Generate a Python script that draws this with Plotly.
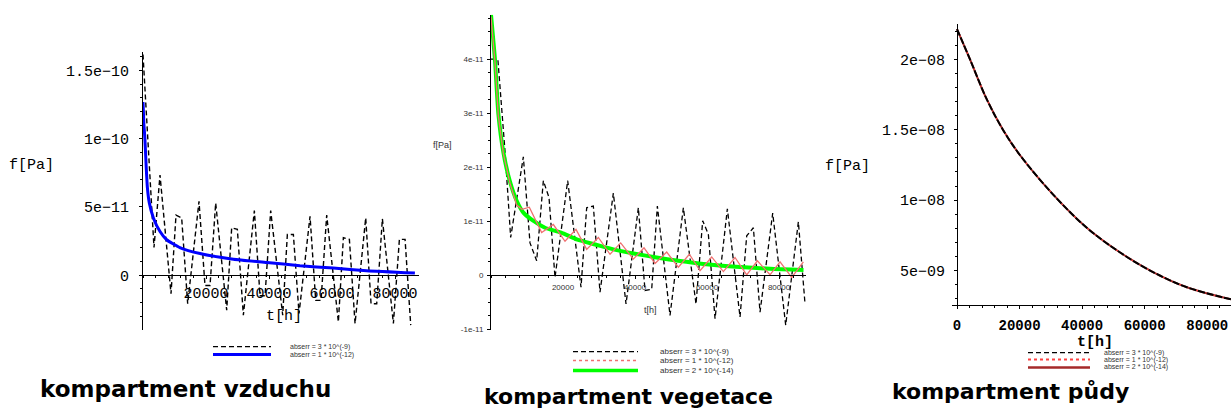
import plotly.graph_objects as go

W, H = 1232, 416

# ---------------- data ----------------
# Panel 1: kompartment vzduchu (air)
air_dash_t = [0, 3492, 5397, 8889, 10476, 12275, 14180, 17778, 19683, 21270, 23069, 26561,
              28148, 29947, 31852, 35344, 37143, 38730, 40529, 44339, 45820, 47725, 49524,
              53016, 54815, 56508, 58306, 62010, 63597, 65502, 67302, 70688, 72381, 74180,
              75979, 79471, 81376, 83175, 84974]
air_dash_f = [16.16e-11, 2.03e-11, 7.34e-11, -1.35e-11, 4.40e-11, 4.20e-11, -2.08e-11, 5.41e-11,
              -0.75e-11, -0.75e-11, 5.29e-11, -2.56e-11, 3.48e-11, 3.36e-11, -2.92e-11, 4.73e-11,
              -1.50e-11, -1.50e-11, 4.73e-11, -2.92e-11, 2.99e-11, 2.99e-11, -2.80e-11, 4.32e-11,
              -1.84e-11, -1.84e-11, 4.40e-11, -3.41e-11, 2.75e-11, 2.63e-11, -3.53e-11, 4.20e-11,
              -2.08e-11, -2.08e-11, 4.13e-11, -3.53e-11, 2.63e-11, 2.63e-11, -3.65e-11]
air_blue_t = [0, 300, 600, 1000, 1400, 2000, 3300, 5400, 7500, 11700, 18100, 28700, 39300,
              49800, 60400, 71000, 86300]
air_blue_f = [12.68e-11, 11.0e-11, 10.0e-11, 8.0e-11, 6.4e-11, 5.3e-11, 4.2e-11, 3.2e-11,
              2.6e-11, 2.03e-11, 1.59e-11, 1.18e-11, 0.94e-11, 0.70e-11, 0.53e-11, 0.34e-11,
              0.17e-11]

# Panel 2: kompartment vegetace
veg_dash_t = [0, 1900, 3889, 5463, 8981, 10833, 12685, 14537, 16111, 17778, 21296, 25000,
              26574, 28426, 30278, 33981, 37500, 40926, 42778, 44630, 46204, 49722, 53426,
              56944, 58796, 60370, 62222, 65648, 69167, 71019, 72870, 74722, 78241, 81852,
              85370, 87222]
veg_dash_f = [4.0e-11, 4.0e-11, 2.3e-11, 0.70e-11, 2.19e-11, 0.60e-11, 0.27e-11, 1.75e-11,
              1.44e-11, -0.04e-11, 1.75e-11, -0.22e-11, 1.25e-11, 1.28e-11, -0.31e-11, 1.52e-11,
              -0.53e-11, 1.25e-11, -0.28e-11, -0.26e-11, 1.28e-11, -0.74e-11, 1.25e-11,
              -0.53e-11, 1.01e-11, 0.76e-11, -0.80e-11, 1.23e-11, -0.77e-11, 0.73e-11,
              0.88e-11, -0.68e-11, 1.15e-11, -0.92e-11, 0.99e-11, -0.53e-11]
veg_red_t = [0, 1100, 2040, 3430, 5280, 7130, 8600, 10650, 14070, 17315, 20556, 23611, 26574,
             29815, 33056, 36019, 39537, 42500, 45556, 48796, 52037, 55093, 58056, 61296,
             64537, 67778, 71019, 73981, 77500, 80278, 83519, 86759]
veg_red_f = [4.78e-11, 3.95e-11, 2.95e-11, 2.25e-11, 1.70e-11, 1.30e-11, 1.22e-11, 1.26e-11,
             0.79e-11, 0.94e-11, 0.63e-11, 0.85e-11, 0.48e-11, 0.70e-11, 0.39e-11, 0.60e-11,
             0.30e-11, 0.51e-11, 0.22e-11, 0.43e-11, 0.15e-11, 0.39e-11, 0.085e-11, 0.34e-11,
             0.07e-11, 0.33e-11, 0.01e-11, 0.27e-11, 0.01e-11, 0.25e-11, -0.04e-11, 0.25e-11]
veg_green_t = [0, 1100, 2040, 3430, 5280, 7130, 9000, 11700, 15000, 19500, 24000, 29000,
               34000, 40000, 46000, 52000, 59000, 68000, 77500, 86800]
veg_green_f = [4.82e-11, 3.99e-11, 2.99e-11, 2.28e-11, 1.73e-11, 1.38e-11, 1.16e-11, 1.01e-11,
               0.88e-11, 0.79e-11, 0.66e-11, 0.57e-11, 0.48e-11, 0.40e-11, 0.33e-11, 0.27e-11,
               0.21e-11, 0.16e-11, 0.12e-11, 0.10e-11]

# Panel 3: kompartment půdy (soil) - three overlapping curves
soil_t = [0, 4160, 9493, 14827, 20160, 30827, 41493, 52160, 62827, 73493, 87573]
soil_f = [22.16e-9, 20.0e-9, 17.18e-9, 14.95e-9, 13.19e-9, 10.37e-9, 8.03e-9, 6.27e-9,
          4.86e-9, 3.80e-9, 2.94e-9]

# tick labels
t_ticks = [20000, 40000, 60000, 80000]
t_tick_text = ["20000", "40000", "60000", "80000"]
soil_t_ticks = [0, 20000, 40000, 60000, 80000]
soil_t_tick_text = ["0", "20000", "40000", "60000", "80000"]
air_f_ticks = [0, 5e-11, 1e-10, 1.5e-10]
air_f_tick_text = ["0", "5e\u221211", "1e\u221210", "1.5e\u221210"]
veg_f_ticks = [-1e-11, 0, 1e-11, 2e-11, 3e-11, 4e-11]
veg_f_tick_text = ["-1e-11", "0", "1e-11", "2e-11", "3e-11", "4e-11"]
soil_f_ticks = [5e-9, 1e-8, 1.5e-8, 2e-8]
soil_f_tick_text = ["5e\u221209", "1e\u221208", "1.5e\u221208", "2e\u221208"]

legend_labels = ["abserr = 3 * 10^(-9)", "abserr = 1 * 10^(-12)", "abserr = 2 * 10^(-14)"]
titles = ["kompartment vzduchu", "kompartment vegetace", "kompartment půdy"]

# ---------------- figure ----------------
def fx(p):
    return p / W

def fy(p):
    return 1 - p / H

DASH = "5px,3px"
fig = go.Figure()

fig.add_trace(go.Scatter(x=air_dash_t, y=air_dash_f, xaxis="x", yaxis="y", mode="lines",
                         line=dict(color="black", width=1.4, dash=DASH)))
fig.add_trace(go.Scatter(x=air_blue_t, y=air_blue_f, xaxis="x", yaxis="y", mode="lines",
                         line=dict(color="#0000ff", width=3, shape="spline", smoothing=0.5)))

fig.add_trace(go.Scatter(x=veg_dash_t, y=veg_dash_f, xaxis="x2", yaxis="y2", mode="lines",
                         line=dict(color="black", width=1.3, dash=DASH)))
fig.add_trace(go.Scatter(x=veg_green_t, y=veg_green_f, xaxis="x2", yaxis="y2", mode="lines",
                         line=dict(color="#00ff00", width=4, shape="spline", smoothing=0.5)))
fig.add_trace(go.Scatter(x=veg_red_t, y=veg_red_f, xaxis="x2", yaxis="y2", mode="lines",
                         line=dict(color="#f07070", width=1.3)))

fig.add_trace(go.Scatter(x=soil_t, y=soil_f, xaxis="x3", yaxis="y3", mode="lines",
                         line=dict(color="#a52a2a", width=2, shape="spline")))
fig.add_trace(go.Scatter(x=soil_t, y=soil_f, xaxis="x3", yaxis="y3", mode="lines",
                         line=dict(color="#ff4040", width=1, dash="dot", shape="spline")))
fig.add_trace(go.Scatter(x=soil_t, y=soil_f, xaxis="x3", yaxis="y3", mode="lines",
                         line=dict(color="black", width=2, dash="7px,2px", shape="spline")))

mono = dict(family="Liberation Mono", size=15, color="black")
mono_x3 = dict(family="Liberation Mono", size=14, color="black", weight="bold")
sans = dict(family="Liberation Sans", size=8, color="#333333")

common = dict(showgrid=False, zeroline=False, showline=True, linecolor="black", linewidth=1,
              ticks="outside", tickcolor="black", tickmode="array", fixedrange=True,
              ticklabeloverflow="allow")

fig.update_layout(
    width=W, height=H, margin=dict(l=0, r=0, t=0, b=0),
    paper_bgcolor="white", plot_bgcolor="white", showlegend=False,
    xaxis=dict(domain=[fx(143), fx(419)], range=[0, 87600], anchor="free", position=fy(278),
               tickvals=t_ticks, ticktext=t_tick_text, tickfont=mono, ticklen=3,
               ticklabelstandoff=1,
               minor=dict(tickmode="linear", tick0=0, dtick=4000, ticks="outside", ticklen=2,
                          tickcolor="black"), **common),
    yaxis=dict(domain=[fy(333), fy(52)], range=[-3.99e-11, 1.638e-10], anchor="x",
               tickvals=air_f_ticks, ticktext=air_f_tick_text, tickfont=mono, ticklen=3,
               ticklabelstandoff=7,
               minor=dict(tickmode="linear", tick0=0, dtick=1e-11, ticks="outside", ticklen=2,
                          tickcolor="black"), **common),
    xaxis2=dict(domain=[fx(491), fx(806.4)], range=[0, 87600], anchor="free", position=fy(278),
                tickvals=t_ticks, ticktext=t_tick_text, tickfont=sans, ticklen=3,
                ticklabelstandoff=1,
                minor=dict(tickmode="linear", tick0=0, dtick=4000, ticks="outside", ticklen=2,
                           tickcolor="black"), **common),
    yaxis2=dict(domain=[fy(333), fy(15)], range=[-1.007e-11, 4.817e-11], anchor="x2",
                tickvals=veg_f_ticks, ticktext=veg_f_tick_text, tickfont=sans, ticklen=3,
                ticklabelstandoff=2,
                minor=dict(tickmode="linear", tick0=0, dtick=0.25e-11, ticks="outside", ticklen=2,
                           tickcolor="black"), **common),
    xaxis3=dict(domain=[fx(952), fx(1231)], range=[-1600, 87600], anchor="y3",
                tickvals=soil_t_ticks, ticktext=soil_t_tick_text, tickfont=mono_x3, ticklen=3,
                ticklabelstandoff=4,
                minor=dict(tickmode="linear", tick0=0, dtick=4000, ticks="outside", ticklen=2,
                           tickcolor="black"), **common),
    yaxis3=dict(domain=[fy(308), fy(24)], range=[2.535e-9, 22.54e-9], anchor="free",
                position=fx(957),
                tickvals=soil_f_ticks, ticktext=soil_f_tick_text, tickfont=mono, ticklen=3,
                ticklabelstandoff=6,
                minor=dict(tickmode="linear", tick0=0, dtick=1e-9, ticks="outside", ticklen=2,
                           tickcolor="black"), **common),
)

ann = []
def add_text(text, x, y, font, xanchor="center"):
    ann.append(dict(text=text, x=fx(x), y=fy(y), xref="paper", yref="paper", showarrow=False,
                    xanchor=xanchor, yanchor="middle", font=font))

# axis titles
add_text("f[Pa]", 31.5, 167, mono)
add_text("t[h]", 284, 320, mono)
add_text("f[Pa]", 443, 146, dict(family="Liberation Sans", size=9, color="#333333"))
add_text("t[h]", 650, 313, dict(family="Liberation Sans", size=9, color="#333333"))
add_text("f[Pa]", 847, 168, mono)
add_text("t[h]", 1095, 346, dict(family="Liberation Mono", size=15, color="black", weight="bold"))

# titles
add_text(titles[0], 185, 393, dict(family="DejaVu Sans", size=23, color="black", weight="bold"))
add_text(titles[1], 628, 400, dict(family="DejaVu Sans", size=22, color="black", weight="bold"))
add_text(titles[2], 1010, 395, dict(family="DejaVu Sans", size=22, color="black", weight="bold"))

# legends (manual)
shapes = []
def leg_line(x0, x1, y, color, width, dash="solid"):
    shapes.append(dict(type="line", xref="paper", yref="paper", x0=fx(x0), x1=fx(x1),
                       y0=fy(y), y1=fy(y), line=dict(color=color, width=width, dash=dash)))

lf1 = dict(family="Liberation Sans", size=7, color="#333333")
leg_line(213, 271, 350, "black", 1.3, DASH)
leg_line(213, 271, 358, "#0000ff", 3)
add_text(legend_labels[0], 288, 350, lf1, "left")
add_text(legend_labels[1], 288, 358, lf1, "left")

lf2 = dict(family="Liberation Sans", size=8, color="#333333")
leg_line(573, 638, 355, "black", 1.3, DASH)
leg_line(573, 638, 364, "#f07070", 1.5, "dot")
leg_line(573, 638, 374, "#00ff00", 3.5)
add_text(legend_labels[0], 658, 355, lf2, "left")
add_text(legend_labels[1], 658, 364, lf2, "left")
add_text(legend_labels[2], 658, 374, lf2, "left")

lf3 = dict(family="Liberation Sans", size=7, color="#333333")
leg_line(1028, 1090, 356, "black", 1.3, DASH)
leg_line(1028, 1090, 363, "#ff4040", 2, "dot")
leg_line(1028, 1090, 371, "#a52a2a", 2.5)
add_text(legend_labels[0], 1102, 356, lf3, "left")
add_text(legend_labels[1], 1102, 363, lf3, "left")
add_text(legend_labels[2], 1102, 371, lf3, "left")

fig.update_layout(annotations=ann, shapes=shapes)
fig.write_html("out.html", config={"displayModeBar": False},
               post_script="document.body.style.margin='0px';"
                           "document.body.style.overflow='hidden';")
